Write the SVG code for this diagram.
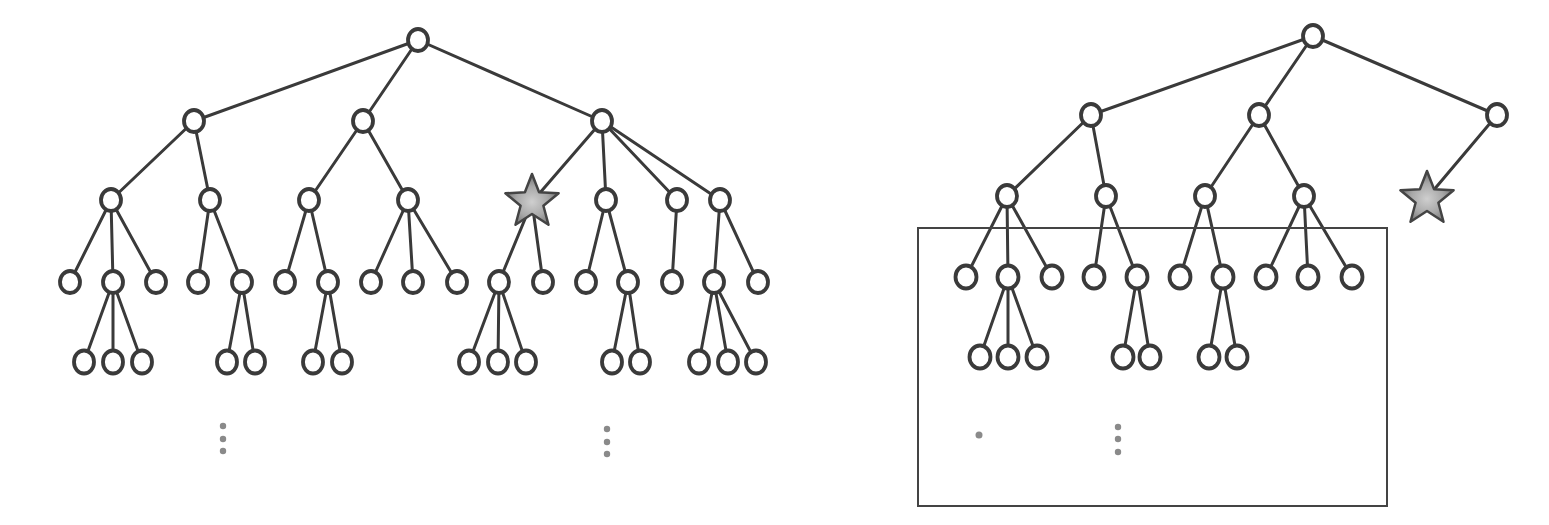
<svg xmlns="http://www.w3.org/2000/svg" width="1549" height="525" viewBox="0 0 1549 525">
<defs>
<radialGradient id="sg" cx="50%" cy="55%" r="50%">
<stop offset="0" stop-color="#cfcfcf"/>
<stop offset="0.6" stop-color="#a8a8a8"/>
<stop offset="1" stop-color="#7a7a7a"/>
</radialGradient>
</defs>
<style>
.e line{stroke:#3a3a3a;stroke-width:3;stroke-linecap:round}
.n{fill:#fff;stroke:#3a3a3a;stroke-width:3.8}
.s{fill:url(#sg);stroke:#444;stroke-width:2.5;stroke-linejoin:round}
.d{fill:#8a8a8a}
.box{fill:none;stroke:#444;stroke-width:2}
</style>
<rect width="1549" height="525" fill="#fff"/>
<g id="connectors" class="e">
<line x1="418" y1="40" x2="194" y2="121"/><line x1="418" y1="40" x2="363" y2="121"/><line x1="418" y1="40" x2="602" y2="121"/>
<line x1="194" y1="121" x2="111" y2="200"/><line x1="194" y1="121" x2="210" y2="200"/>
<line x1="363" y1="121" x2="309" y2="200"/><line x1="363" y1="121" x2="408" y2="200"/>
<line x1="602" y1="121" x2="532" y2="202"/><line x1="602" y1="121" x2="606" y2="200"/><line x1="602" y1="121" x2="677" y2="200"/><line x1="602" y1="121" x2="720" y2="200"/>
<line x1="111" y1="200" x2="70" y2="282"/><line x1="111" y1="200" x2="113" y2="282"/><line x1="111" y1="200" x2="156" y2="282"/>
<line x1="210" y1="200" x2="198" y2="282"/><line x1="210" y1="200" x2="242" y2="282"/>
<line x1="309" y1="200" x2="285" y2="282"/><line x1="309" y1="200" x2="328" y2="282"/>
<line x1="408" y1="200" x2="371" y2="282"/><line x1="408" y1="200" x2="413" y2="282"/><line x1="408" y1="200" x2="457" y2="282"/>
<line x1="532" y1="202" x2="499" y2="282"/><line x1="532" y1="202" x2="543" y2="282"/>
<line x1="606" y1="200" x2="586" y2="282"/><line x1="606" y1="200" x2="628" y2="282"/>
<line x1="677" y1="200" x2="672" y2="282"/>
<line x1="720" y1="200" x2="714" y2="282"/><line x1="720" y1="200" x2="758" y2="282"/>
<line x1="113" y1="282" x2="84" y2="362"/><line x1="113" y1="282" x2="113" y2="362"/><line x1="113" y1="282" x2="142" y2="362"/>
<line x1="242" y1="282" x2="227" y2="362"/><line x1="242" y1="282" x2="255" y2="362"/>
<line x1="328" y1="282" x2="313" y2="362"/><line x1="328" y1="282" x2="342" y2="362"/>
<line x1="499" y1="282" x2="469" y2="362"/><line x1="499" y1="282" x2="498" y2="362"/><line x1="499" y1="282" x2="526" y2="362"/>
<line x1="628" y1="282" x2="612" y2="362"/><line x1="628" y1="282" x2="640" y2="362"/>
<line x1="714" y1="282" x2="699" y2="362"/><line x1="714" y1="282" x2="728" y2="362"/><line x1="714" y1="282" x2="756" y2="362"/>
<line x1="1313" y1="36" x2="1091" y2="115"/><line x1="1313" y1="36" x2="1259" y2="115"/><line x1="1313" y1="36" x2="1497" y2="115"/>
<line x1="1091" y1="115" x2="1007" y2="196"/><line x1="1091" y1="115" x2="1106" y2="196"/>
<line x1="1259" y1="115" x2="1205" y2="196"/><line x1="1259" y1="115" x2="1304" y2="196"/>
<line x1="1497" y1="115" x2="1427" y2="198"/>
<line x1="1007" y1="196" x2="966" y2="277"/><line x1="1007" y1="196" x2="1008" y2="277"/><line x1="1007" y1="196" x2="1052" y2="277"/>
<line x1="1106" y1="196" x2="1094" y2="277"/><line x1="1106" y1="196" x2="1137" y2="277"/>
<line x1="1205" y1="196" x2="1180" y2="277"/><line x1="1205" y1="196" x2="1223" y2="277"/>
<line x1="1304" y1="196" x2="1266" y2="277"/><line x1="1304" y1="196" x2="1308" y2="277"/><line x1="1304" y1="196" x2="1352" y2="277"/>
<line x1="1008" y1="277" x2="980" y2="357"/><line x1="1008" y1="277" x2="1008" y2="357"/><line x1="1008" y1="277" x2="1037" y2="357"/>
<line x1="1137" y1="277" x2="1123" y2="357"/><line x1="1137" y1="277" x2="1150" y2="357"/>
<line x1="1223" y1="277" x2="1209" y2="357"/><line x1="1223" y1="277" x2="1237" y2="357"/>
</g>
<g id="box"><rect class="box" x="918" y="228" width="469" height="278"/></g>
<g id="left-tree">
<g id="L0"><ellipse class="n" cx="418" cy="40" rx="10" ry="11"/></g>
<g id="L1a"><ellipse class="n" cx="194" cy="121" rx="10" ry="11"/></g>
<g id="L1b"><ellipse class="n" cx="363" cy="121" rx="10" ry="11"/></g>
<g id="L1c"><ellipse class="n" cx="602" cy="121" rx="10" ry="11"/></g>
<g id="L2a"><ellipse class="n" cx="111" cy="200" rx="10" ry="11"/></g>
<g id="L2b"><ellipse class="n" cx="210" cy="200" rx="10" ry="11"/></g>
<g id="L2c"><ellipse class="n" cx="309" cy="200" rx="10" ry="11"/></g>
<g id="L2d"><ellipse class="n" cx="408" cy="200" rx="10" ry="11"/></g>
<g id="L2star"><polygon class="s" points="532,174 539.1,192.3 558.6,193.3 543.4,205.7 548.5,224.7 532,214 515.5,224.7 520.6,205.7 505.4,193.3 524.9,192.3"/></g>
<g id="L2f"><ellipse class="n" cx="606" cy="200" rx="10" ry="11"/></g>
<g id="L2g"><ellipse class="n" cx="677" cy="200" rx="10" ry="11"/></g>
<g id="L2h"><ellipse class="n" cx="720" cy="200" rx="10" ry="11"/></g>
<g id="L3-1"><ellipse class="n" cx="70" cy="282" rx="10" ry="11"/></g>
<g id="L3-2"><ellipse class="n" cx="113" cy="282" rx="10" ry="11"/></g>
<g id="L3-3"><ellipse class="n" cx="156" cy="282" rx="10" ry="11"/></g>
<g id="L3-4"><ellipse class="n" cx="198" cy="282" rx="10" ry="11"/></g>
<g id="L3-5"><ellipse class="n" cx="242" cy="282" rx="10" ry="11"/></g>
<g id="L3-6"><ellipse class="n" cx="285" cy="282" rx="10" ry="11"/></g>
<g id="L3-7"><ellipse class="n" cx="328" cy="282" rx="10" ry="11"/></g>
<g id="L3-8"><ellipse class="n" cx="371" cy="282" rx="10" ry="11"/></g>
<g id="L3-9"><ellipse class="n" cx="413" cy="282" rx="10" ry="11"/></g>
<g id="L3-10"><ellipse class="n" cx="457" cy="282" rx="10" ry="11"/></g>
<g id="L3-11"><ellipse class="n" cx="499" cy="282" rx="10" ry="11"/></g>
<g id="L3-12"><ellipse class="n" cx="543" cy="282" rx="10" ry="11"/></g>
<g id="L3-13"><ellipse class="n" cx="586" cy="282" rx="10" ry="11"/></g>
<g id="L3-14"><ellipse class="n" cx="628" cy="282" rx="10" ry="11"/></g>
<g id="L3-15"><ellipse class="n" cx="672" cy="282" rx="10" ry="11"/></g>
<g id="L3-16"><ellipse class="n" cx="714" cy="282" rx="10" ry="11"/></g>
<g id="L3-17"><ellipse class="n" cx="758" cy="282" rx="10" ry="11"/></g>
<g id="L4-1"><ellipse class="n" cx="84" cy="362" rx="10" ry="11.5"/></g>
<g id="L4-2"><ellipse class="n" cx="113" cy="362" rx="10" ry="11.5"/></g>
<g id="L4-3"><ellipse class="n" cx="142" cy="362" rx="10" ry="11.5"/></g>
<g id="L4-4"><ellipse class="n" cx="227" cy="362" rx="10" ry="11.5"/></g>
<g id="L4-5"><ellipse class="n" cx="255" cy="362" rx="10" ry="11.5"/></g>
<g id="L4-6"><ellipse class="n" cx="313" cy="362" rx="10" ry="11.5"/></g>
<g id="L4-7"><ellipse class="n" cx="342" cy="362" rx="10" ry="11.5"/></g>
<g id="L4-8"><ellipse class="n" cx="469" cy="362" rx="10" ry="11.5"/></g>
<g id="L4-9"><ellipse class="n" cx="498" cy="362" rx="10" ry="11.5"/></g>
<g id="L4-10"><ellipse class="n" cx="526" cy="362" rx="10" ry="11.5"/></g>
<g id="L4-11"><ellipse class="n" cx="612" cy="362" rx="10" ry="11.5"/></g>
<g id="L4-12"><ellipse class="n" cx="640" cy="362" rx="10" ry="11.5"/></g>
<g id="L4-13"><ellipse class="n" cx="699" cy="362" rx="10" ry="11.5"/></g>
<g id="L4-14"><ellipse class="n" cx="728" cy="362" rx="10" ry="11.5"/></g>
<g id="L4-15"><ellipse class="n" cx="756" cy="362" rx="10" ry="11.5"/></g>
<g id="L-dots1"><circle class="d" cx="223" cy="426" r="3.2"/><circle class="d" cx="223" cy="439" r="3.2"/><circle class="d" cx="223" cy="451" r="3.2"/></g>
<g id="L-dots2"><circle class="d" cx="607" cy="429" r="3.2"/><circle class="d" cx="607" cy="442" r="3.2"/><circle class="d" cx="607" cy="454" r="3.2"/></g>
</g>
<g id="right-tree">
<g id="R0"><ellipse class="n" cx="1313" cy="36" rx="10" ry="11"/></g>
<g id="R1a"><ellipse class="n" cx="1091" cy="115" rx="10" ry="11"/></g>
<g id="R1b"><ellipse class="n" cx="1259" cy="115" rx="10" ry="11"/></g>
<g id="R1c"><ellipse class="n" cx="1497" cy="115" rx="10" ry="11"/></g>
<g id="R2a"><ellipse class="n" cx="1007" cy="196" rx="10" ry="11"/></g>
<g id="R2b"><ellipse class="n" cx="1106" cy="196" rx="10" ry="11"/></g>
<g id="R2c"><ellipse class="n" cx="1205" cy="196" rx="10" ry="11"/></g>
<g id="R2d"><ellipse class="n" cx="1304" cy="196" rx="10" ry="11"/></g>
<g id="R2star"><polygon class="s" points="1427,171 1434.1,189.3 1453.6,190.3 1438.4,202.7 1443.5,221.7 1427,211 1410.5,221.7 1415.6,202.7 1400.4,190.3 1419.9,189.3"/></g>
<g id="R3-1"><ellipse class="n" cx="966" cy="277" rx="10.5" ry="11.5"/></g>
<g id="R3-2"><ellipse class="n" cx="1008" cy="277" rx="10.5" ry="11.5"/></g>
<g id="R3-3"><ellipse class="n" cx="1052" cy="277" rx="10.5" ry="11.5"/></g>
<g id="R3-4"><ellipse class="n" cx="1094" cy="277" rx="10.5" ry="11.5"/></g>
<g id="R3-5"><ellipse class="n" cx="1137" cy="277" rx="10.5" ry="11.5"/></g>
<g id="R3-6"><ellipse class="n" cx="1180" cy="277" rx="10.5" ry="11.5"/></g>
<g id="R3-7"><ellipse class="n" cx="1223" cy="277" rx="10.5" ry="11.5"/></g>
<g id="R3-8"><ellipse class="n" cx="1266" cy="277" rx="10.5" ry="11.5"/></g>
<g id="R3-9"><ellipse class="n" cx="1308" cy="277" rx="10.5" ry="11.5"/></g>
<g id="R3-10"><ellipse class="n" cx="1352" cy="277" rx="10.5" ry="11.5"/></g>
<g id="R4-1"><ellipse class="n" cx="980" cy="357" rx="10.5" ry="11.5"/></g>
<g id="R4-2"><ellipse class="n" cx="1008" cy="357" rx="10.5" ry="11.5"/></g>
<g id="R4-3"><ellipse class="n" cx="1037" cy="357" rx="10.5" ry="11.5"/></g>
<g id="R4-4"><ellipse class="n" cx="1123" cy="357" rx="10.5" ry="11.5"/></g>
<g id="R4-5"><ellipse class="n" cx="1150" cy="357" rx="10.5" ry="11.5"/></g>
<g id="R4-6"><ellipse class="n" cx="1209" cy="357" rx="10.5" ry="11.5"/></g>
<g id="R4-7"><ellipse class="n" cx="1237" cy="357" rx="10.5" ry="11.5"/></g>
<g id="R-dot1"><circle class="d" cx="979" cy="435" r="3.5"/></g>
<g id="R-dots2"><circle class="d" cx="1118" cy="427" r="3.2"/><circle class="d" cx="1118" cy="439" r="3.2"/><circle class="d" cx="1118" cy="452" r="3.2"/></g>
</g>
</svg>
